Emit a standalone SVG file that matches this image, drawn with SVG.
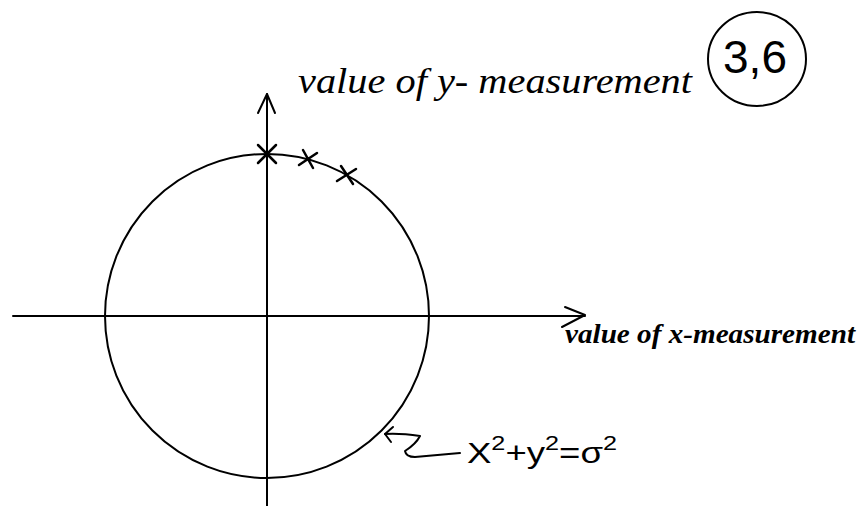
<svg xmlns="http://www.w3.org/2000/svg" width="858" height="506" viewBox="0 0 858 506">
<style>
  .ln { fill: none; stroke: #000; stroke-width: 2; stroke-linecap: round; stroke-linejoin: round; }
  .mk { fill: none; stroke: #000; stroke-width: 2.5; stroke-linecap: round; }
  .hand { font-family: "Liberation Serif", "DejaVu Serif", serif; font-style: italic; fill: #000; }
  .eq { font-family: "Liberation Sans", "DejaVu Sans", sans-serif; font-style: normal; fill: #000; }
</style>
<rect width="858" height="506" fill="#fff"/>
<g id="axes">
  <path class="ln" d="M13 316 L585 316"/>
  <path class="ln" d="M565 307 L585 315 L562 327"/>
  <path class="ln" d="M267 506 L267 94"/>
  <path class="ln" d="M258 113 L267 94 L275 113"/>
</g>
<g id="circle">
  <circle class="ln" cx="267" cy="316" r="162"/>
</g>
<g id="points">
  <path class="mk" d="M258 145 L276 163 M258 163 L276 145"/>
  <path class="mk" d="M303 150 L313 168 M299 165 L317 153"/>
  <path class="mk" d="M341 166 L353 184 M337 181 L356 169"/>
</g>
<g id="y-label">
  <text class="hand" x="298" y="93" font-size="36" textLength="394" lengthAdjust="spacingAndGlyphs">value of y- measurement</text>
</g>
<g id="tag">
  <ellipse class="ln" cx="757" cy="59" rx="49" ry="47"/>
  <text x="755" y="73" font-family="Liberation Sans, Arial, sans-serif" font-size="46" text-anchor="middle">3,6</text>
</g>
<g id="x-label">
  <text class="hand" x="565" y="343" font-size="27" font-weight="bold" textLength="290" lengthAdjust="spacingAndGlyphs">value of x-measurement</text>
</g>
<g id="connectors">
  <path class="ln" d="M385 434 Q400 433 420 436 Q416 444 405 451 Q406 457 415 457 L460 453"/>
  <path class="ln" d="M393 427 L385 434 L391 442"/>
</g>
<g id="equation">
  <text class="eq" x="467" y="463" font-size="29" textLength="150" lengthAdjust="spacingAndGlyphs">X<tspan font-size="20" dy="-13">2</tspan><tspan dy="13">+y</tspan><tspan font-size="20" dy="-13">2</tspan><tspan dy="13">=σ</tspan><tspan font-size="20" dy="-13">2</tspan></text>
</g>
</svg>
